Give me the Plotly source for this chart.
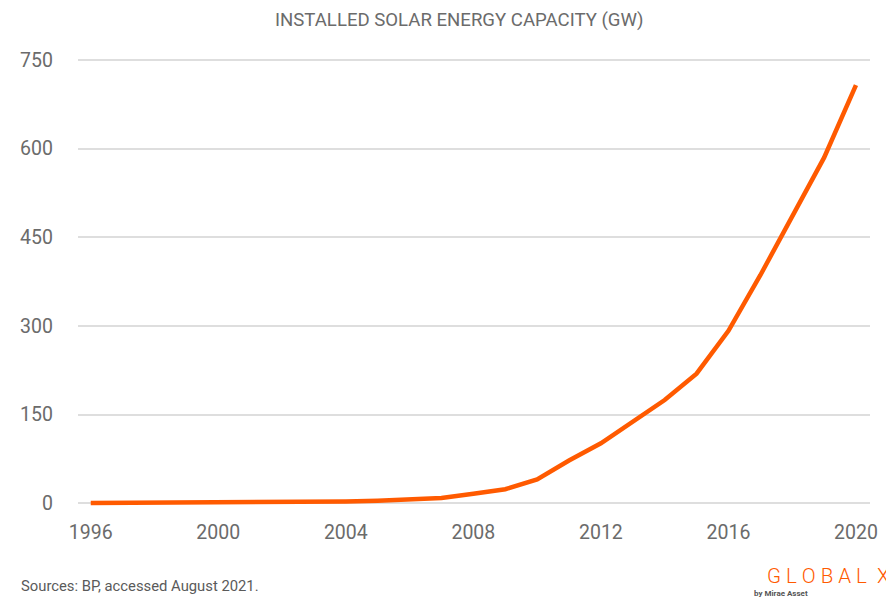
import plotly.graph_objects as go

years = list(range(1996, 2021))
capacity_gw = [0.3, 0.4, 0.5, 0.6, 0.8, 1.0, 1.4, 1.9, 2.8, 4.1, 5.8, 8.7, 15.8,
               23.6, 40.3, 72.3, 101.4, 137.3, 174.6, 219.2, 291.7, 385.7, 484.2,
               584.6, 707.5]
x_ticks = [1996, 2000, 2004, 2008, 2012, 2016, 2020]
y_ticks = [0, 150, 300, 450, 600, 750]

title_text = "INSTALLED SOLAR ENERGY CAPACITY (GW)"
source_text = "Sources: BP, accessed August 2021."

fig = go.Figure()
fig.add_trace(go.Scatter(x=years, y=capacity_gw, mode="lines",
                         line=dict(color="#FF5A00", width=4.5),
                         hoverinfo="x+y"))

font_main = "Roboto, sans-serif"

# page has an 8px body margin: figure origin sits at (8, 8)
fig.update_layout(
    width=886, height=590,
    margin=dict(l=64, r=24, t=46, b=83),
    paper_bgcolor="white", plot_bgcolor="white",
    showlegend=False,
    font=dict(family=font_main, color="#6b6b6b"),
    xaxis=dict(range=[1995.6, 2020.44], tickvals=x_ticks, ticktext=[str(v) for v in x_ticks],
               showgrid=False, zeroline=False, showline=False,
               tickfont=dict(size=19.5, color="#6b6b6b"), ticks="", ticklabelstandoff=3),
    yaxis=dict(range=[-20, 760], tickvals=y_ticks, ticktext=[str(v) for v in y_ticks],
               showgrid=True, gridcolor="#dedede", gridwidth=1.5, zeroline=False,
               showline=False, tickfont=dict(size=19.5, color="#6b6b6b"),
               ticks="", ticklabelstandoff=24),
    annotations=[
        dict(text=title_text, xref="paper", yref="paper", x=(456-72)/798, y=1,
             yshift=54-20, xanchor="center", yanchor="middle", showarrow=False,
             font=dict(size=18.6, color="#6b6b6b", family=font_main)),
        dict(text=source_text, xref="paper", yref="paper", x=-(72-13)/798, y=0,
             yshift=-(586-515), xanchor="left", yanchor="middle", showarrow=False,
             font=dict(size=14.8, color="#5a5a5a", family=font_main)),
        dict(text="G L O B A L  X", xref="paper", yref="paper", x=(890-72)/798, y=0,
             yshift=-(576-515), xanchor="right", yanchor="middle", showarrow=False,
             borderpad=0, font=dict(size=20.5, color="#FF5A00", family=font_main, weight=300)),
        dict(text="<b>by Mirae Asset</b>", xref="paper", yref="paper", x=(752-72)/798, y=0,
             yshift=-(593-515), xanchor="left", yanchor="middle", showarrow=False,
             borderpad=0, font=dict(size=8, color="#555555", family=font_main)),
    ],
)

fig.write_html("out.html")
